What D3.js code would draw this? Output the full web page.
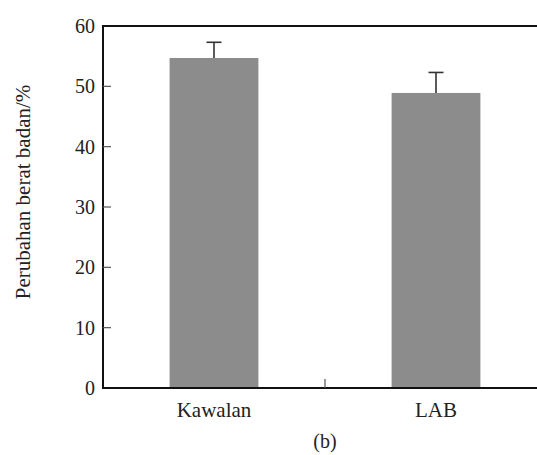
<!DOCTYPE html>
<html><head><meta charset="utf-8">
<script src="https://cdn.jsdelivr.net/npm/d3@7"></script>
<style>body{margin:0;background:#fff}svg{display:block}</style>
</head><body>
<svg id="c" width="537" height="455"></svg>
<script>
const categories = ["Kawalan", "LAB"];
const values = [54.7, 48.9];
const errors = [2.6, 3.4];
const yTicks = [0, 10, 20, 30, 40, 50, 60];
const yLabel = "Perubahan berat badan/%";
const caption = "(b)";

(function () {
const svg = d3.select("#c");
const font = "'Liberation Serif', 'Times New Roman', serif";
const mLeft = 103, mTop = 26, mBottom = 388;
const x = d3.scaleBand().domain(categories).range([mLeft, 547]).paddingInner(0.6).paddingOuter(0.3);
const y = d3.scaleLinear().domain([0, 60]).range([mBottom, mTop]);

// bars
svg.selectAll("rect.bar").data(categories).join("rect")
  .attr("x", d => x(d)).attr("width", x.bandwidth())
  .attr("y", (d, i) => y(values[i])).attr("height", (d, i) => mBottom - y(values[i]))
  .attr("fill", "#8c8c8c");

// error bars
categories.forEach((c, i) => {
  const cx = x(c) + x.bandwidth() / 2;
  svg.append("line").attr("x1", cx).attr("x2", cx)
    .attr("y1", y(values[i])).attr("y2", y(values[i] + errors[i]))
    .attr("stroke", "#333").attr("stroke-width", 1.6);
  svg.append("line").attr("x1", cx - 7.5).attr("x2", cx + 7.5)
    .attr("y1", y(values[i] + errors[i])).attr("y2", y(values[i] + errors[i]))
    .attr("stroke", "#333").attr("stroke-width", 1.6);
});

// axes frame
svg.append("line").attr("x1", mLeft).attr("x2", 537).attr("y1", mTop).attr("y2", mTop)
  .attr("stroke", "#111").attr("stroke-width", 2);
svg.append("line").attr("x1", mLeft).attr("x2", 537).attr("y1", mBottom).attr("y2", mBottom)
  .attr("stroke", "#111").attr("stroke-width", 2);
svg.append("line").attr("x1", mLeft).attr("x2", mLeft).attr("y1", mTop - 1).attr("y2", mBottom + 1)
  .attr("stroke", "#111").attr("stroke-width", 2);

// y ticks
const yAxis = svg.append("g");
yTicks.forEach(t => {
  if (t !== 0 && t !== 60) {
    yAxis.append("line").attr("x1", mLeft).attr("x2", mLeft + 8)
      .attr("y1", y(t)).attr("y2", y(t)).attr("stroke", "#555").attr("stroke-width", 1.2);
  }
  yAxis.append("text").attr("x", mLeft - 8).attr("y", y(t)).attr("dy", "0.35em")
    .attr("text-anchor", "end").attr("font-family", font).attr("font-size", 20)
    .attr("fill", "#222").text(t);
});

// x middle tick between categories
const mid = (x(categories[0]) + x(categories[1]) + x.bandwidth()) / 2;
svg.append("line").attr("x1", mid).attr("x2", mid).attr("y1", mBottom).attr("y2", mBottom - 9)
  .attr("stroke", "#555").attr("stroke-width", 1.2);

// x labels
svg.selectAll("text.xl").data(categories).join("text")
  .attr("x", d => x(d) + x.bandwidth() / 2).attr("y", 417)
  .attr("text-anchor", "middle").attr("font-family", font).attr("font-size", 21)
  .attr("fill", "#222").text(d => d);

// caption
svg.append("text").attr("x", mid).attr("y", 448).attr("text-anchor", "middle")
  .attr("font-family", font).attr("font-size", 20).attr("fill", "#222").text(caption);

// y label
svg.append("text").attr("transform", "translate(30,192) rotate(-90)")
  .attr("text-anchor", "middle").attr("font-family", font).attr("font-size", 21)
  .attr("fill", "#222").text(yLabel);
})();
</script>
</body></html>
